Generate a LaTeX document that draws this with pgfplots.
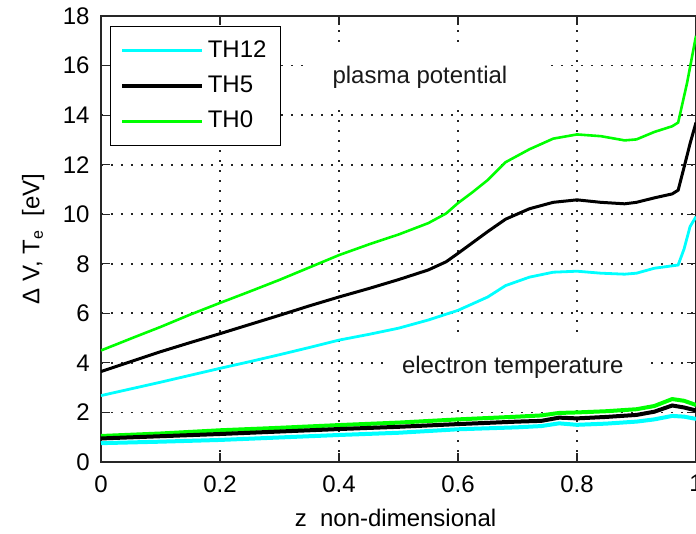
\documentclass[border=0pt]{standalone}
\usepackage{pgfplots}
\pgfplotsset{compat=1.18}
\usepackage{fontspec}
\setmainfont{Liberation Sans}
\definecolor{mcyan}{RGB}{0,255,255}
\definecolor{mgreen}{RGB}{0,255,0}
\begin{document}
\fontsize{12}{14.4}\selectfont
\begin{tikzpicture}
\begin{axis}[
  at={(0,0)}, anchor=south west,
  scale only axis, width=297.5pt, height=223pt,
  xmin=0, xmax=1, ymin=0, ymax=18,
  xtick={0,0.2,0.4,0.6,0.8,1},
  ytick={0,2,4,6,8,10,12,14,16,18},
  /pgf/number format/assume math mode=true,
  tick align=inside,
  major tick length=4.5pt,
  tick style={black!85, line width=0.6pt},
  axis line style={black!85, line width=0.7pt},
  grid=major,
  major grid style={black!85, line width=0.9pt, dash pattern=on 0.9pt off 4.1pt},
  ticklabel style={font=\fontsize{12}{14.4}\selectfont},
  yticklabel style={xshift=-1.5pt},
  xticklabel style={yshift=-2.5pt},
  label style={font=\fontsize{12}{14.4}\selectfont},
  every axis x label/.style={at={(axis description cs:0.495,-0.1457)}, anchor=base},
  every axis y label/.style={at={(axis description cs:-0.114,0.5)}, rotate=90, anchor=center},
  xlabel={z\ \ non-dimensional},
  ylabel={Δ V, T\textsubscript{e}\ \ [eV]},
  legend style={at={(axis description cs:0.015,0.978)}, anchor=north west,
    draw=black, line width=0.7pt, fill=white,
    inner xsep=5pt, inner ysep=5pt, row sep=3.5pt,
    font=\fontsize{12}{14.4}\selectfont, cells={anchor=west}},
  legend image code/.code={\draw[#1, line width=1.6pt] (0pt,0pt) -- (40pt,0pt);},
]
\fill[white] (axis cs:0.343,14.2) rectangle (axis cs:0.75,16.8);
\fill[white] (axis cs:0.477,2.3) rectangle (axis cs:0.914,5.0);

% plasma potential
\addplot[mcyan, line width=1.4pt] coordinates {
(0,2.68) (0.05,2.95) (0.1,3.22) (0.15,3.5) (0.2,3.78) (0.25,4.05) (0.3,4.33)
(0.35,4.62) (0.4,4.92) (0.45,5.15) (0.5,5.4) (0.55,5.73) (0.6,6.12) (0.65,6.66)
(0.68,7.12) (0.72,7.46) (0.76,7.66) (0.8,7.7) (0.84,7.62) (0.88,7.58) (0.9,7.62)
(0.93,7.82) (0.97,7.95) (0.98,8.6) (0.99,9.5) (1.0,9.9)};
\addlegendentry{TH12}
\addplot[black, line width=1.5pt] coordinates {
(0,3.65) (0.05,4.05) (0.1,4.45) (0.15,4.82) (0.2,5.18) (0.25,5.55) (0.3,5.92)
(0.35,6.3) (0.4,6.66) (0.45,7.0) (0.5,7.36) (0.55,7.75) (0.58,8.08) (0.6,8.42)
(0.65,9.3) (0.68,9.8) (0.72,10.22) (0.76,10.48) (0.8,10.58) (0.84,10.48)
(0.88,10.42) (0.9,10.48) (0.93,10.66) (0.96,10.82) (0.97,10.97) (0.98,11.9)
(0.99,12.85) (1.0,13.7)};
\addlegendentry{TH5}
\addplot[mgreen, line width=1.3pt] coordinates {
(0,4.5) (0.05,4.98) (0.1,5.45) (0.15,5.95) (0.2,6.42) (0.25,6.88) (0.3,7.35)
(0.35,7.85) (0.4,8.35) (0.45,8.78) (0.5,9.18) (0.55,9.64) (0.58,10.03) (0.6,10.45)
(0.625,10.9) (0.65,11.38) (0.68,12.1) (0.72,12.62) (0.76,13.05) (0.8,13.22)
(0.84,13.15) (0.88,12.98) (0.9,13.02) (0.93,13.32) (0.96,13.55) (0.97,13.7)
(0.985,15.3) (1.0,17.2)};
\addlegendentry{TH0}

% electron temperature
\addplot[mcyan, line width=2pt, forget plot] coordinates {
(0,0.76) (0.1,0.82) (0.2,0.89) (0.3,0.99) (0.4,1.09) (0.5,1.18) (0.6,1.32)
(0.7,1.4) (0.74,1.45) (0.77,1.56) (0.8,1.5) (0.85,1.55) (0.9,1.63) (0.93,1.72)
(0.96,1.86) (0.98,1.83) (1.0,1.74)};
\addplot[mgreen, line width=2pt, forget plot] coordinates {
(0,1.05) (0.1,1.15) (0.2,1.28) (0.3,1.38) (0.4,1.49) (0.5,1.59) (0.6,1.72)
(0.7,1.83) (0.74,1.88) (0.77,1.98) (0.8,2.0) (0.85,2.05) (0.9,2.13) (0.93,2.26)
(0.96,2.54) (0.98,2.47) (1.0,2.3)};
\addplot[black, line width=2pt, forget plot] coordinates {
(0,0.95) (0.1,1.04) (0.2,1.13) (0.3,1.23) (0.4,1.33) (0.5,1.42) (0.6,1.53)
(0.7,1.63) (0.74,1.66) (0.77,1.79) (0.8,1.76) (0.85,1.82) (0.9,1.9) (0.93,2.03)
(0.96,2.28) (0.98,2.2) (1.0,2.08)};

\node[font=\fontsize{12}{14.4}\selectfont, text=black!90] at (axis cs:0.536,15.54) {plasma potential};
\node[font=\fontsize{12}{14.4}\selectfont, text=black!90] at (axis cs:0.692,3.83) {electron temperature};
\end{axis}
\pgfresetboundingbox
\path[use as bounding box] (-50.5pt,-36pt) rectangle (297.5pt,231pt);
\end{tikzpicture}
\end{document}
